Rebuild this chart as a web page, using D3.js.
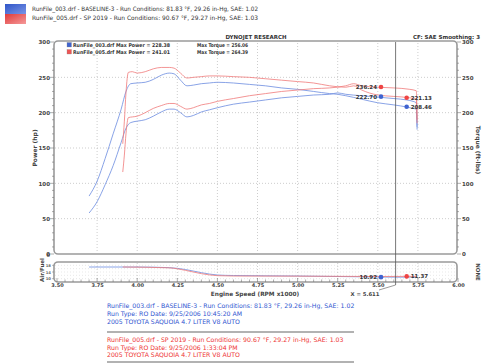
<!DOCTYPE html>
<html><head><meta charset="utf-8">
<script src="https://cdn.jsdelivr.net/npm/d3@7"></script>
<style>
html,body{margin:0;padding:0;background:#fff;}
svg{display:block;}
text{font-family:"DejaVu Sans",sans-serif;}
</style></head>
<body>
<script>
// ---------- data ----------
const blueRpm   = [3.70,3.75,3.80,3.85,3.90,3.93,3.96,4.00,4.05,4.10,4.15,4.20,4.23,4.27,4.31,4.35,4.40,4.45,4.50,4.60,4.70,4.80,4.90,5.00,5.10,5.20,5.25,5.30,5.40,5.50,5.60,5.68,5.72,5.74,5.745];
const bluePower = [58,74,98,125,158,178,186,188,190,195,201,205,205,200,194,196,201,204,207,212,215,218,221,223,225,226,228,226,224,222,220,218,216,214,180];
const blueTorque= [82,103,135,170,205,230,241,242,243,247,253,256,255,246,238,239,241,242,243,242,240,238,235,233,230,227,226,224,219,214,211,208,206,205,176];
const redRpm    = [3.91,3.92,3.93,3.945,3.97,4.00,4.05,4.10,4.15,4.20,4.23,4.27,4.31,4.35,4.40,4.45,4.50,4.60,4.70,4.80,4.90,5.00,5.10,5.20,5.30,5.35,5.40,5.50,5.60,5.70,5.74,5.745];
const redPower  = [116,140,170,193,194,195,200,206,210,213,213,209,205,207,211,213,216,220,224,227,230,232,234,235,238,241,238,236,235,233,231,190];
const redTorque = [156,188,228,257,258,256,258,262,264,264,263,256,249,250,251,252,252,251,250,248,246,244,242,238,236,238,232,225,223,221,219,185];
const blueAfRpm = [3.70,4.00,4.20,4.30,4.40,4.50,4.60,5.00,5.50,5.60,5.74];
const blueAf    = [17.0,17.0,16.6,15.5,13.6,12.2,11.9,11.6,11.0,10.9,10.9];
const redAfRpm  = [3.91,4.20,4.30,4.40,4.50,4.60,5.00,5.50,5.74];
const redAf     = [17.0,16.5,15.0,13.0,11.8,11.6,11.5,11.3,11.4];
const xTicks = [3.50,3.75,4.00,4.25,4.50,4.75,5.00,5.25,5.50,5.75,6.00];
const yTicks = [0,50,100,150,200,250,300];
const cursorX = 5.611;
const markers = [
  {rpm:5.52, v:236.24, c:"red",  side:"left"},
  {rpm:5.52, v:222.70, c:"blue", side:"left"},
  {rpm:5.68, v:221.13, c:"red",  side:"right"},
  {rpm:5.68, v:208.46, c:"blue", side:"right"}
];
const afMarkers = [
  {rpm:5.52, v:10.92, c:"blue", side:"left"},
  {rpm:5.68, v:11.37, c:"red", side:"right"}
];
const legendTop = [
  "RunFile_003.drf - BASELINE-3 -  Run Conditions: 81.83 \u00b0F, 29.26 in-Hg, SAE: 1.02",
  "RunFile_005.drf - SP 2019 -  Run Conditions: 90.67 \u00b0F, 29.27 in-Hg, SAE: 1.03"
];
const legendIn = [
  ["RunFile_003.drf Max Power = 228.38","Max Torque = 256.06"],
  ["RunFile_005.drf Max Power = 241.01","Max Torque = 264.39"]
];
const footBlue = ["RunFile_003.drf - BASELINE-3 -  Run Conditions: 81.83 \u00b0F, 29.26 in-Hg, SAE: 1.02",
  "Run Type: RO  Date: 9/25/2006 10:45:20 AM","2005 TOYOTA SAQUOIA 4.7 LITER V8 AUTO"];
const footRed = ["RunFile_005.drf - SP 2019 -  Run Conditions: 90.67 \u00b0F, 29.27 in-Hg, SAE: 1.03",
  "Run Type: RO  Date: 9/25/2006 1:33:04 PM","2005 TOYOTA SAQUOIA 4.7 LITER V8 AUTO"];

// ---------- drawing ----------
const W=500,H=364;
const BLUE="#6b8be0", RED="#f07a7a", BLUE_D="#3f63d0", RED_D="#ee4444";
const svg=d3.select("body").append("svg").attr("width",W).attr("height",H);
const x=d3.scaleLinear().domain([3.5,6.0]).range([57,458]);
const y=d3.scaleLinear().domain([0,300]).range([254,42]);
const yAf=d3.scaleLinear().domain([8,20]).range([282,262]);

// top legend
const lgColors=[["#2f55c8","#7a95e6"],["#e03a3a","#f59a9a"]];
const defs=svg.append("defs");
lgColors.forEach((c,i)=>{
  const g=defs.append("linearGradient").attr("id","lg"+i).attr("x1",0).attr("x2",1).attr("y1",0).attr("y2",1);
  g.append("stop").attr("offset","0%").attr("stop-color",c[0]);
  g.append("stop").attr("offset","100%").attr("stop-color",c[1]);
  svg.append("rect").attr("x",5).attr("y",4+i*10).attr("width",21).attr("height",10).attr("fill","url(#lg"+i+")");
  svg.append("text").attr("x",32).attr("y",11+i*9).attr("font-family","Liberation Sans, Arial").attr("font-size",6)
    .attr("fill","#333").attr("textLength",226).attr("lengthAdjust","spacingAndGlyphs").text(legendTop[i]);
});

svg.append("text").attr("x",256).attr("y",39).attr("text-anchor","middle").attr("font-size",5.5).attr("font-weight","bold")
  .attr("fill","#333").attr("textLength",61).attr("lengthAdjust","spacingAndGlyphs").text("DYNOJET RESEARCH");
svg.append("text").attr("x",480).attr("y",39).attr("text-anchor","end").attr("font-size",5.5).attr("font-weight","bold")
  .attr("fill","#333").text("CF: SAE  Smoothing: 3");

// grid
const gridC="#b8b8b8";
xTicks.slice(1,-1).forEach(t=>{
  svg.append("line").attr("x1",x(t)).attr("x2",x(t)).attr("y1",43).attr("y2",253)
    .attr("stroke",gridC).attr("stroke-width",0.7).attr("stroke-dasharray","1,2");
  svg.append("line").attr("x1",x(t)).attr("x2",x(t)).attr("y1",263).attr("y2",281)
    .attr("stroke",gridC).attr("stroke-width",0.7).attr("stroke-dasharray","1,2");
});
yTicks.slice(1,-1).forEach(t=>{
  svg.append("line").attr("x1",55).attr("x2",456).attr("y1",y(t)).attr("y2",y(t))
    .attr("stroke",gridC).attr("stroke-width",0.7).attr("stroke-dasharray","1,2");
});
[10,12,14,16,18].forEach(t=>{
  svg.append("line").attr("x1",55).attr("x2",456).attr("y1",yAf(t)).attr("y2",yAf(t))
    .attr("stroke","#d0d0d0").attr("stroke-width",0.5).attr("stroke-dasharray","1,2");
});
svg.append("rect").attr("x",54).attr("y",41).attr("width",403).attr("height",213).attr("rx",4)
  .attr("fill","none").attr("stroke","#9a9a9a").attr("stroke-width",1.6);
svg.append("rect").attr("x",54).attr("y",262).attr("width",403).attr("height",20).attr("rx",4)
  .attr("fill","none").attr("stroke","#9a9a9a").attr("stroke-width",1.6);

// axes
const yl=d3.axisLeft(y).tickValues(yTicks).tickSize(0).tickPadding(4);
const ag=svg.append("g").attr("transform","translate(54,0)").call(yl);
ag.select(".domain").remove();
ag.selectAll("text").attr("font-size",5.5).attr("font-weight","bold").attr("fill","#444").attr("font-family","DejaVu Sans");
const yr=d3.axisRight(y).tickValues(yTicks).tickSize(0).tickPadding(5);
const ar=svg.append("g").attr("transform","translate(457,0)").call(yr);
ar.select(".domain").remove();
ar.selectAll("text").attr("font-size",5.5).attr("font-weight","bold").attr("fill","#444").attr("font-family","DejaVu Sans");
d3.range(0,301,10).forEach(v=>{
  const L=v%50===0?4:2;
  svg.append("line").attr("x1",54-L).attr("x2",54).attr("y1",y(v)).attr("y2",y(v)).attr("stroke","#777").attr("stroke-width",0.6);
  svg.append("line").attr("x1",457).attr("x2",457+L).attr("y1",y(v)).attr("y2",y(v)).attr("stroke","#777").attr("stroke-width",0.6);
});
d3.range(3.5,6.001,0.05).forEach(v=>{
  const major=Math.abs(v*4-Math.round(v*4))<1e-6;
  svg.append("line").attr("x1",x(v)).attr("x2",x(v)).attr("y1",major?278:279.5).attr("y2",282).attr("stroke","#777").attr("stroke-width",0.6);
});
const xa=d3.axisBottom(x).tickValues(xTicks).tickFormat(d3.format(".2f")).tickSize(0).tickPadding(2);
const xg=svg.append("g").attr("transform","translate(0,281)").call(xa);
xg.select(".domain").remove();
xg.selectAll("text").attr("font-size",5).attr("font-weight","bold").attr("fill","#444").attr("font-family","DejaVu Sans");

// AF axis tiny labels
[18,14,10].forEach(t=>{
  svg.append("text").attr("x",51).attr("y",yAf(t)+1.5).attr("text-anchor","end").attr("font-size",3.8)
    .attr("font-weight","bold").attr("fill","#666").text(t);
  svg.append("line").attr("x1",52).attr("x2",54).attr("y1",yAf(t)).attr("y2",yAf(t)).attr("stroke","#777").attr("stroke-width",0.5);
});
svg.append("text").attr("x",50).attr("y",257).attr("text-anchor","end").attr("font-size",5).attr("font-weight","bold").attr("fill","#444").text("0");

// axis titles
svg.append("text").attr("transform","translate(37,148) rotate(-90)").attr("text-anchor","middle")
  .attr("font-size",6).attr("font-weight","bold").attr("fill","#444").text("Power (hp)");
svg.append("text").attr("transform","translate(476,150) rotate(90)").attr("text-anchor","middle")
  .attr("font-size",6).attr("font-weight","bold").attr("fill","#444").text("Torque (ft-lbs)");
svg.append("text").attr("transform","translate(44,270) rotate(-90)").attr("text-anchor","middle")
  .attr("font-size",5.5).attr("font-weight","bold").attr("fill","#444").text("Air/Fuel");
svg.append("text").attr("transform","translate(476,272) rotate(90)").attr("text-anchor","middle")
  .attr("font-size",5.5).attr("font-weight","bold").attr("fill","#444").text("NONE");
svg.append("text").attr("x",255).attr("y",295.5).attr("text-anchor","middle").attr("font-size",5.8)
  .attr("font-weight","bold").attr("fill","#444").text("Engine Speed (RPM x1000)");
svg.append("text").attr("x",365).attr("y",295.5).attr("text-anchor","middle").attr("font-size",5.3)
  .attr("font-weight","bold").attr("fill","#444").text("X = " + cursorX.toFixed(3));

// in-plot legend
legendIn.forEach((t,i)=>{
  svg.append("rect").attr("x",67).attr("y",42.5+i*7).attr("width",4.5).attr("height",4.5)
    .attr("fill",i===0?"#3f63d0":"#ee5555").attr("stroke","#888").attr("stroke-width",0.3);
  svg.append("text").attr("x",73).attr("y",47+i*7).attr("font-size",5.2).attr("font-weight","bold").attr("fill","#333")
    .attr("textLength",97).attr("lengthAdjust","spacingAndGlyphs").text(t[0]);
  svg.append("text").attr("x",197).attr("y",47+i*7).attr("font-size",5.2).attr("font-weight","bold").attr("fill","#333")
    .attr("textLength",51).attr("lengthAdjust","spacingAndGlyphs").text(t[1]);
});

// curves
const line=(ys,sc)=>d3.line().x(d=>x(d)).y((d,i)=>sc(ys[i])).curve(d3.curveMonotoneX);
function draw(xs,ys,col,sc){
  svg.append("path").attr("d",line(ys,sc)(xs)).attr("fill","none").attr("stroke",col).attr("stroke-width",0.8);
}
draw(blueRpm,bluePower,BLUE,y);
draw(blueRpm,blueTorque,BLUE,y);
draw(redRpm,redPower,RED,y);
draw(redRpm,redTorque,RED,y);
draw(blueAfRpm,blueAf,BLUE,yAf);
draw(redAfRpm,redAf,RED,yAf);

// cursor
svg.append("line").attr("x1",x(cursorX)).attr("x2",x(cursorX)).attr("y1",42).attr("y2",285).attr("stroke","#555").attr("stroke-width",0.8);
svg.append("line").attr("x1",x(cursorX)).attr("x2",379).attr("y1",285).attr("y2",290).attr("stroke","#555").attr("stroke-width",0.6);

// markers
function mark(m,sc){
  const col=m.c==="red"?RED_D:BLUE_D;
  svg.append("circle").attr("cx",x(m.rpm)).attr("cy",sc(m.v)).attr("r",2.3).attr("fill",col);
  svg.append("text").attr("x",m.side==="left"?x(m.rpm)-4:x(m.rpm)+4).attr("y",sc(m.v)+2)
    .attr("text-anchor",m.side==="left"?"end":"start").attr("font-size",5.5).attr("font-weight","bold")
    .attr("fill","#333").text(m.v.toFixed(2));
}
markers.forEach(m=>mark(m,y));
afMarkers.forEach(m=>mark(m,yAf));

// footer
footBlue.forEach((t,i)=>{
  svg.append("text").attr("x",107).attr("y",308+i*8).attr("font-family","Liberation Sans, Arial").attr("font-size",6.2)
    .attr("fill","#2f55d0").text(t);
});
footRed.forEach((t,i)=>{
  svg.append("text").attr("x",107).attr("y",342+i*7.5).attr("font-family","Liberation Sans, Arial").attr("font-size",6.2)
    .attr("fill","#ee3333").text(t);
});
[332,362].forEach(yy=>svg.append("line").attr("x1",107).attr("x2",354).attr("y1",yy).attr("y2",yy).attr("stroke","#666").attr("stroke-width",1.2));
</script>
</body></html>
